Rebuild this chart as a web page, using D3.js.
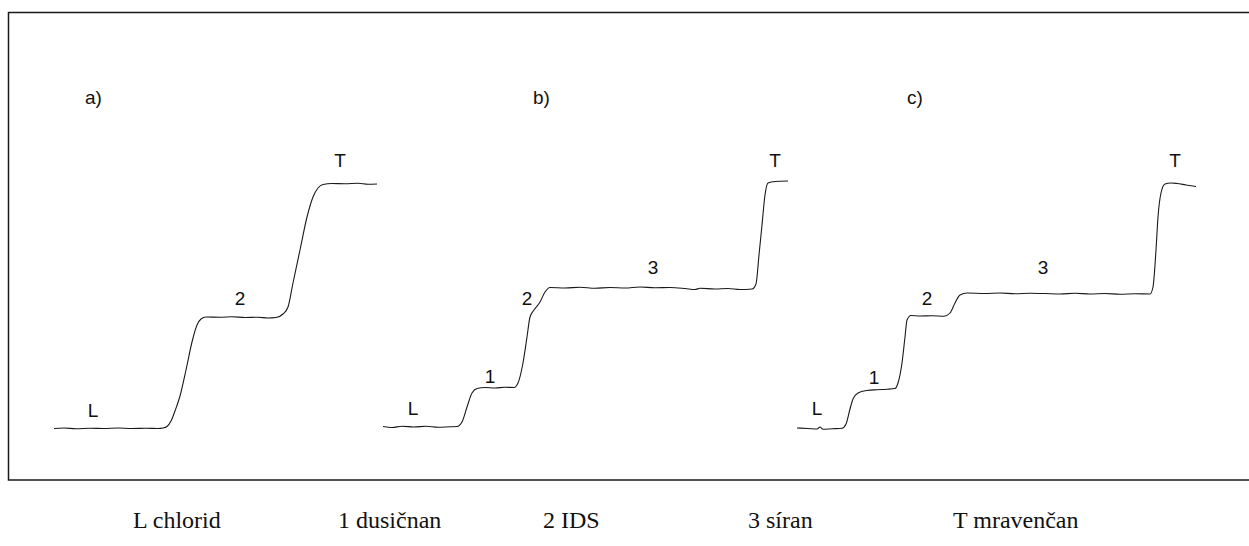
<!DOCTYPE html>
<html>
<head>
<meta charset="utf-8">
<script src="https://cdn.jsdelivr.net/npm/d3@7"></script>
<style>
  html, body { margin: 0; padding: 0; background: #fff; }
  svg { display: block; }
</style>
</head>
<body>
<svg id="chart"></svg>
<script>
// time (t) and signal (v)
const panelNames = ['a)', 'b)', 'c)'];

const traceA = [
  [0, -0.2], [2.5, 0], [5.5, -0.3], [9, -0.1], [12.5, -0.2], [16, 0], [19.5, -0.2], [23, -0.1],
  [26, -0.2], [27.25, 0], [28.25, 0.6], [29.25, 2.8], [30.25, 6.8], [31.5, 12.8], [33, 23.2],
  [34.5, 34.4], [35.75, 41.2], [36.75, 43.6], [38, 44.4], [41.5, 44.3], [44.5, 44.5], [47.75, 44.2],
  [51, 44.3], [53.5, 44], [55.5, 44.2], [57.25, 45.6], [58.5, 48.4], [59.75, 58], [61.5, 71.2],
  [63.25, 84.4], [64.75, 92.4], [66, 96], [67.25, 97.4], [69.5, 97.8], [72.75, 97.7], [76, 97.9],
  [78.5, 97.5], [80.75, 97.6]
];

const traceB = [
  [0, 0.6], [2.25, 0.2], [4.75, 0.7], [7.75, 0.4], [10.75, 0.7], [13.75, 0.3], [16.75, 0.5],
  [18.5, 0.6], [19.75, 2.4], [21, 8.4], [22.25, 14], [23.5, 15.8], [25.5, 16.2], [28, 16],
  [30.5, 16.3], [32.75, 16.2], [33.75, 18], [35, 26], [36, 36.4], [36.75, 44.4], [37.75, 47.2],
  [39.25, 50.4], [40.5, 54.4], [41.75, 56.2], [45.5, 56], [49.25, 56.3], [53, 55.9], [56.75, 56.2],
  [60.5, 56], [64.25, 56.4], [68, 56.1], [71.75, 56.2], [75.5, 55.8], [78, 55.4], [79.25, 55.9],
  [83, 55.6], [86.25, 55.8], [89.25, 55.4], [92.25, 55.6], [93.25, 57.6], [94, 69.2], [94.75, 81.2],
  [95.5, 93.2], [96.25, 98], [98, 98.6], [101.25, 98.8]
];

const traceC = [
  [0, 0], [2.75, -0.2], [5, -0.4], [5.75, 0.4], [6.5, -0.5], [8.75, -0.3], [11.25, -0.1],
  [12.25, 1.6], [13.25, 7.6], [14, 11.6], [15.25, 14], [17.5, 15], [20, 15.3], [22.5, 15.5],
  [24.5, 15.8], [25.25, 18], [26.25, 26], [27, 36.4], [27.5, 43.2], [28.5, 45], [30.75, 44.8],
  [33.75, 44.9], [36.75, 44.7], [38.25, 46], [39.5, 50], [40.75, 53.2], [42.5, 54], [47, 53.8],
  [50.75, 54], [54.5, 53.7], [58.25, 53.9], [62, 53.8], [65.75, 53.6], [69.5, 53.9], [73.25, 53.6],
  [77, 53.8], [80.75, 53.5], [84.5, 53.7], [88.25, 53.6], [89, 56.4], [89.75, 71.2], [90.25, 84.4],
  [91, 94], [92, 97.6], [93.5, 98], [95, 97.8], [97.25, 97.2], [99.75, 96.6]
];

// zone labels: text, t, v (baseline)
const zonesA = [['L', 9.75, 4.5], ['2', 46.5, 49.3], ['T', 71.5, 104.5]];
const zonesB = [['L', 7.5, 5.3], ['1', 26.75, 18.1], ['2', 36, 49.3], ['3', 67.5, 61.7], ['T', 98, 104.5]];
const zonesC = [['L', 5, 5.3], ['1', 19.25, 17.7], ['2', 32.5, 49.3], ['3', 61.5, 61.7], ['T', 94.5, 104.5]];

// panel letter position (t, v)
const panelLetterT = [7.75, 37.5, 27.5];
const panelLetterV = 129.6;

const legendItems = ['L chlorid', '1 dusičnan', '2 IDS', '3 síran', 'T mravenčan'];

const W = 1249, H = 546;
const panelStarts = [54, 383, 797];
const traces = [traceA, traceB, traceC];
const zones = [zonesA, zonesB, zonesC];

const svg = d3.select('#chart').attr('width', W).attr('height', H);

svg.append('rect')
  .attr('x', 8.5)
  .attr('y', 12.5)
  .attr('width', 1260)
  .attr('height', 467.5)
  .attr('fill', 'none')
  .attr('stroke', '#1a1a1a')
  .attr('stroke-width', 1.5);

const y = d3.scaleLinear().domain([0, 100]).range([428, 178]);

traces.forEach((data, i) => {
  const x = d3.scaleLinear().domain([0, 100]).range([panelStarts[i], panelStarts[i] + 400]);

  const line = d3.line()
    .x(d => x(d[0]))
    .y(d => y(d[1]))
    .curve(d3.curveMonotoneX);

  const g = svg.append('g');

  g.append('path')
    .datum(data)
    .attr('fill', 'none')
    .attr('stroke', '#1a1a1a')
    .attr('stroke-width', 1.1)
    .attr('d', line);

  g.selectAll('text.zone')
    .data(zones[i])
    .join('text')
    .attr('class', 'zone')
    .attr('x', d => x(d[1]))
    .attr('y', d => y(d[2]))
    .attr('text-anchor', 'middle')
    .attr('font-family', 'Liberation Sans, Arial, sans-serif')
    .attr('font-size', 19)
    .attr('fill', '#111')
    .text(d => d[0]);

  g.append('text')
    .attr('x', x(panelLetterT[i]))
    .attr('y', y(panelLetterV))
    .attr('font-family', 'Liberation Sans, Arial, sans-serif')
    .attr('font-size', 19)
    .attr('fill', '#111')
    .text(panelNames[i]);
});

const lx = d3.scalePoint().domain(legendItems).range([133, 953]);

svg.append('g')
  .selectAll('text')
  .data(legendItems)
  .join('text')
  .attr('x', d => lx(d))
  .attr('y', 528)
  .attr('font-family', 'Liberation Serif, Times New Roman, serif')
  .attr('font-size', 24)
  .attr('fill', '#111')
  .text(d => d);
</script>
</body>
</html>
